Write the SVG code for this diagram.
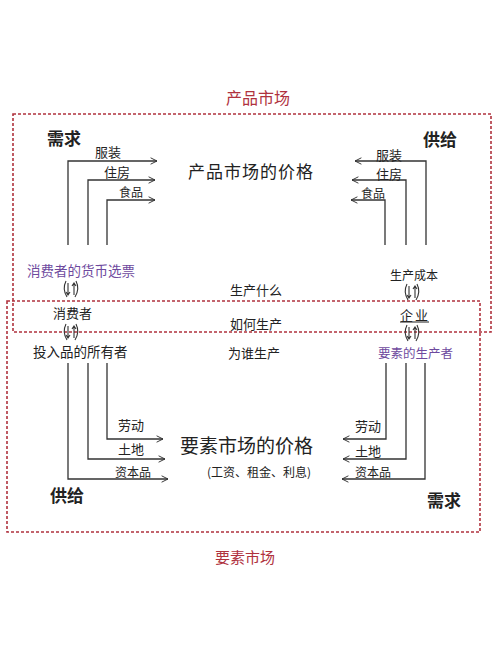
<svg xmlns="http://www.w3.org/2000/svg" width="500" height="653" viewBox="0 0 500 653">
<style>
text{font-family:"Noto Sans CJK SC","Noto Sans",sans-serif;fill:#222}
.red{fill:#b0323e}
.pur{fill:#6e4a9e}
.box{fill:none;stroke:#b0323e;stroke-width:1.6;stroke-dasharray:3 2}
.ln{fill:none;stroke:#333;stroke-width:1.3}
.hd{fill:none;stroke:#333;stroke-width:1.1}
</style>
<defs>
<marker id="ah" viewBox="0 0 10 10" refX="9" refY="5" markerWidth="8" markerHeight="8" orient="auto" markerUnits="userSpaceOnUse">
<path d="M1,1 L9,5 L1,9" fill="none" stroke="#333" stroke-width="1.2"/>
</marker>
<g id="dbl">
<path d="M-3,-6 L-3,6 M-5,3 L-3,6 L-1,3 M3,6 L3,-6 M1,-3 L3,-6 L5,-3" class="hd"/>
<path d="M-5,-8 Q-9,0 -4,8 M5,-8 Q9,0 4,8" class="hd"/>
</g>
</defs>
<rect width="500" height="653" fill="#fff"/>

<g id="market-boxes">
<rect class="box" x="13" y="114" width="478" height="218"/>
<rect class="box" x="7" y="301" width="473" height="231"/>
<text class="red" x="226" y="104" font-size="16">产品市场</text>
<text class="red" x="215" y="563" font-size="15">要素市场</text>
</g>

<g id="connectors">
<!-- top left demand -->
<path class="ln" d="M68,245 V161 H157" marker-end="url(#ah)"/>
<path class="ln" d="M88,245 V180 H155" marker-end="url(#ah)"/>
<path class="ln" d="M107,245 V200 H155" marker-end="url(#ah)"/>
<!-- top right supply -->
<path class="ln" d="M426,245 V161 H355" marker-end="url(#ah)"/>
<path class="ln" d="M406,245 V180 H352" marker-end="url(#ah)"/>
<path class="ln" d="M385,245 V200 H351" marker-end="url(#ah)"/>
<!-- bottom left supply -->
<path class="ln" d="M107,363 V439 H163" marker-end="url(#ah)"/>
<path class="ln" d="M88,363 V459 H165" marker-end="url(#ah)"/>
<path class="ln" d="M68,363 V479 H168" marker-end="url(#ah)"/>
<!-- bottom right demand -->
<path class="ln" d="M386,363 V439 H343" marker-end="url(#ah)"/>
<path class="ln" d="M406,363 V459 H343" marker-end="url(#ah)"/>
<path class="ln" d="M425,363 V479 H342" marker-end="url(#ah)"/>
<use href="#dbl" x="71" y="289"/>
<use href="#dbl" x="71" y="332"/>
<use href="#dbl" x="412" y="292"/>
<use href="#dbl" x="412" y="333"/>
</g>

<g id="product-demand">
<text x="47" y="145" font-size="17" font-weight="bold">需求</text>
<text x="95" y="157" font-size="13">服装</text>
<text x="104" y="177" font-size="13">住房</text>
<text x="119" y="197" font-size="12">食品</text>
</g>

<g id="product-supply">
<text x="423" y="146" font-size="17" font-weight="bold">供给</text>
<text x="376" y="160" font-size="13">服装</text>
<text x="376" y="179" font-size="13">住房</text>
<text x="361" y="198" font-size="12">食品</text>
</g>

<g id="product-price">
<text x="188" y="178" font-size="17" letter-spacing="1">产品市场的价格</text>
</g>

<g id="consumer">
<text class="pur" x="27" y="276" font-size="13.5">消费者的货币选票</text>
<text x="53" y="318" font-size="13">消费者</text>
<text x="33" y="357" font-size="13.5">投入品的所有者</text>
</g>

<g id="firm">
<text x="390" y="280" font-size="12">生产成本</text>
<text x="400" y="320" font-size="13" letter-spacing="2">企业</text>
<path d="M400,322 H429" class="hd"/>
<text class="pur" x="378" y="358" font-size="12.5">要素的生产者</text>
</g>

<g id="questions">
<text x="230" y="295" font-size="13">生产什么</text>
<text x="230" y="329" font-size="13">如何生产</text>
<text x="228" y="358" font-size="13">为谁生产</text>
</g>

<g id="factor-supply">
<text x="50" y="502" font-size="17" font-weight="bold">供给</text>
<text x="118" y="430" font-size="13">劳动</text>
<text x="118" y="454" font-size="13">土地</text>
<text x="115" y="477" font-size="12">资本品</text>
</g>

<g id="factor-demand">
<text x="427" y="507" font-size="17" font-weight="bold">需求</text>
<text x="355" y="431" font-size="13">劳动</text>
<text x="355" y="456" font-size="13">土地</text>
<text x="355" y="477" font-size="12">资本品</text>
</g>

<g id="factor-price">
<text x="180" y="453" font-size="19">要素市场的价格</text>
<text x="207" y="477" font-size="12">(工资、租金、利息)</text>
</g>
</svg>
